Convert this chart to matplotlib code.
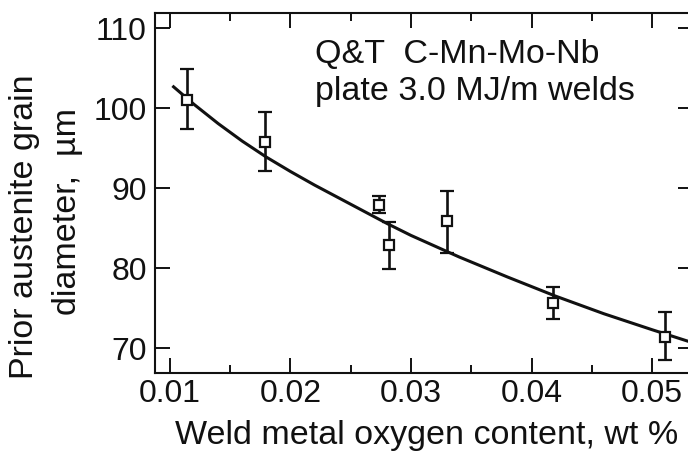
import matplotlib.pyplot as plt
from matplotlib.ticker import MultipleLocator

plt.rcParams['font.family'] = ['Liberation Sans', 'DejaVu Sans']

# measured points: oxygen (wt %), grain diameter (um), error bar ends
oxygen = [0.01139, 0.01788, 0.02734, 0.02817, 0.03300, 0.04178, 0.05108]
grain = [101.1, 95.8, 87.9, 82.9, 85.9, 75.7, 71.4]
grain_top = [104.9, 99.6, 89.0, 85.8, 89.7, 77.6, 74.5]
grain_bot = [97.4, 92.2, 86.9, 79.9, 81.9, 73.7, 68.5]

# fitted curve
fit_x = [0.0103, 0.0120, 0.0140, 0.0160, 0.0180, 0.0200, 0.0220, 0.0240,
         0.0260, 0.0280, 0.0300, 0.0340, 0.0380, 0.0420, 0.0460, 0.0500, 0.0531]
fit_y = [102.7, 100.5, 98.1, 95.9, 93.9, 92.1, 90.4, 88.8,
         87.2, 85.6, 84.1, 81.4, 78.9, 76.5, 74.3, 72.3, 70.8]

ink = '#111111'

fig = plt.figure(figsize=(6.88, 4.54), dpi=100)
ax = fig.add_axes([0.2253, 0.1784, 0.782, 0.793])

ax.plot(fit_x, fit_y, color=ink, lw=2.2, zorder=2)

err_lo = [g - b for g, b in zip(grain, grain_bot)]
err_hi = [t - g for g, t in zip(grain, grain_top)]
ax.errorbar(oxygen, grain, yerr=[err_lo, err_hi], fmt='s', color=ink,
            mfc='white', mec=ink, ms=7.5, mew=1.6, elinewidth=1.9,
            capsize=5, capthick=1.9, zorder=3)

ax.set_xlim(0.00876, 0.0534)
ax.set_ylim(66.88, 111.94)
ax.xaxis.set_major_locator(MultipleLocator(0.01))
ax.xaxis.set_minor_locator(MultipleLocator(0.005))
ax.yaxis.set_major_locator(MultipleLocator(10))
ax.set_xticks([0.01, 0.02, 0.03, 0.04, 0.05])
ax.set_xticklabels(['0.01', '0.02', '0.03', '0.04', '0.05'])

ax.tick_params(axis='both', which='both', direction='in', top=True, right=True,
               colors=ink, labelsize=23)
ax.tick_params(axis='both', which='major', length=10.8, width=1.4)
ax.tick_params(axis='both', which='minor', length=5.8, width=1.4)
ax.tick_params(axis='x', pad=4.3)
ax.tick_params(axis='y', pad=5.8)
for s in ax.spines.values():
    s.set_linewidth(1.5)
    s.set_color(ink)

fig.text(0.4578, 0.8612, 'Q&T  C-Mn-Mo-Nb', fontsize=24.5, color=ink, va='baseline')
fig.text(0.4578, 0.7797, 'plate 3.0 MJ/m welds', fontsize=24.5, color=ink, va='baseline')

fig.text(0.6206, 0.022, 'Weld metal oxygen content, wt %', fontsize=24.5,
         color=ink, ha='center', va='baseline')
fig.text(0.0349, 0.501, 'Prior austenite grain', fontsize=24.5, color=ink,
         rotation=90, ha='center', va='center')
fig.text(0.0974, 0.5337, 'diameter,  µm', fontsize=24.5, color=ink,
         rotation=90, ha='center', va='center')

fig.savefig('out.png', dpi=100)
